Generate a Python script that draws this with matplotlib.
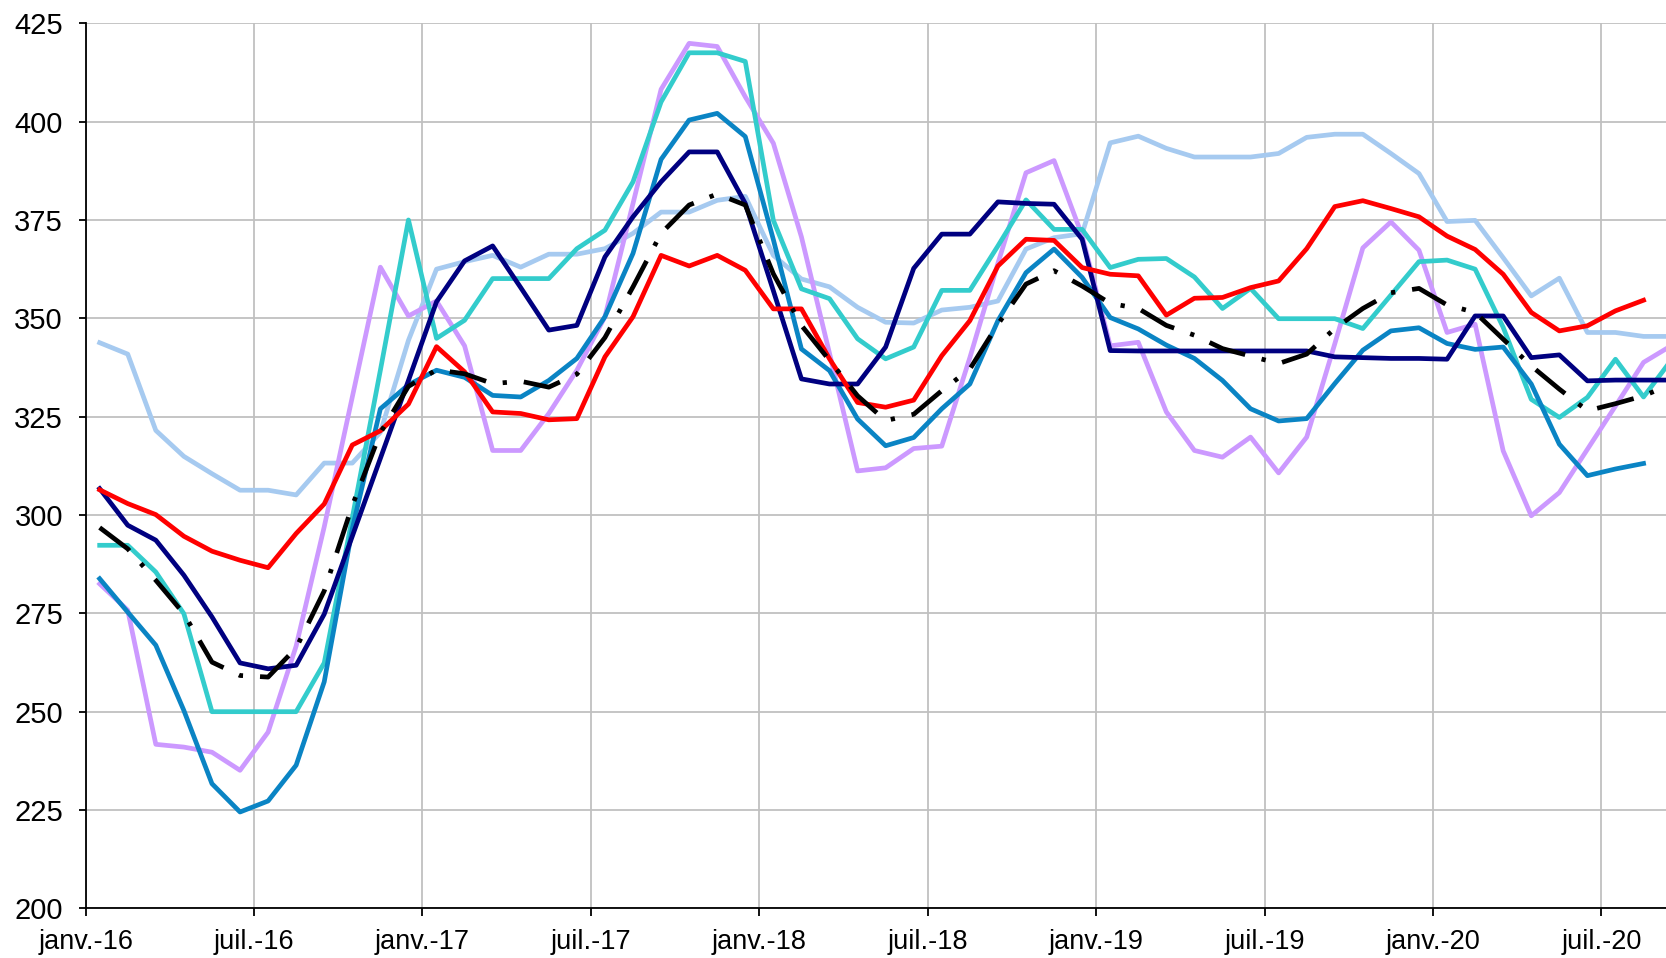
import numpy as np
import matplotlib
matplotlib.use("Agg")
import matplotlib.pyplot as plt

plt.rcParams['font.family'] = ['Liberation Sans', 'DejaVu Sans']

# monthly series, janv.-16 onwards
red = [306.4, 302.9, 300.1, 294.6, 290.8, 288.5, 286.6, 295.3, 302.8, 317.8, 321.4, 328.2,
       342.8, 336.4, 326.2, 325.8, 324.2, 324.5, 340.2, 350.4, 366.0, 363.3, 366.0, 362.2,
       352.4, 352.4, 339.7, 328.6, 327.4, 329.2, 340.5, 349.4, 363.3, 370.1, 369.8, 362.9,
       361.2, 360.8, 350.8, 355.1, 355.3, 357.8, 359.5, 367.7, 378.4, 379.9, 377.9, 375.8,
       370.9, 367.5, 361.2, 351.5, 346.8, 348.1, 351.9, 354.6]
navy = [306.7, 297.4, 293.6, 284.7, 274.1, 262.4, 260.9, 261.8, 274.8, 294.6, 314.4, 334.2,
        354.2, 364.6, 368.4, 357.8, 347.0, 348.2, 365.6, 375.8, 384.7, 392.3, 392.3, 379.2,
        357.0, 334.6, 333.3, 333.3, 342.7, 362.7, 371.4, 371.4, 379.6, 379.2, 379.0, 370.1,
        341.8, 341.7, 341.7, 341.7, 341.7, 341.7, 341.7, 341.7, 340.2, 340.0, 339.8, 339.8,
        339.6, 350.6, 350.6, 340.0, 340.7, 334.1, 334.3, 334.3, 334.3]
cyan = [292.3, 292.3, 285.5, 274.9, 250.0, 250.0, 250.0, 250.0, 262.4, 299.3, 336.8, 375.0,
        344.9, 349.5, 360.1, 360.1, 360.1, 367.7, 372.4, 384.7, 405.0, 417.5, 417.5, 415.3,
        374.9, 357.5, 355.0, 344.8, 339.7, 342.7, 357.1, 357.1, 368.4, 380.1, 372.6, 372.6,
        362.9, 365.0, 365.2, 360.5, 352.5, 357.6, 349.9, 349.9, 349.9, 347.4, 355.9, 364.4,
        364.8, 362.5, 347.7, 329.4, 324.8, 329.9, 339.6, 330.0, 339.5]
blue = [283.8, 275.3, 266.9, 250.3, 231.7, 224.5, 227.3, 236.4, 257.6, 296.5, 327.0, 333.1,
        336.8, 335.0, 330.4, 330.0, 334.2, 339.8, 350.4, 366.5, 390.4, 400.4, 402.1, 396.2,
        370.0, 342.2, 336.7, 324.4, 317.6, 319.7, 327.0, 333.3, 349.4, 361.6, 367.6, 360.4,
        350.2, 347.3, 343.2, 339.8, 334.2, 327.0, 323.9, 324.5, 333.4, 341.9, 346.8, 347.6,
        343.6, 342.1, 342.7, 333.3, 318.0, 310.0, 311.7, 313.1]
purple = [282.5, 275.8, 241.7, 241.0, 239.7, 235.1, 244.8, 266.7, 297.0, 330.0, 363.0, 350.6,
          354.4, 343.0, 316.4, 316.4, 325.8, 336.8, 350.4, 379.2, 408.2, 419.9, 419.1, 406.3,
          394.5, 370.7, 341.1, 311.2, 312.0, 316.9, 317.5, 340.0, 364.0, 387.0, 390.1, 371.0,
          343.0, 343.9, 326.2, 316.4, 314.7, 319.8, 310.7, 319.8, 343.5, 367.9, 374.5, 367.3,
          346.4, 348.5, 316.3, 299.8, 305.7, 316.7, 327.7, 338.8, 343.1]
lightblue = [343.8, 340.9, 321.5, 314.9, 310.5, 306.3, 306.3, 305.1, 313.2, 313.2, 321.0, 344.4,
             362.5, 364.4, 366.0, 363.0, 366.3, 366.3, 367.7, 371.6, 377.0, 377.0, 380.0, 381.0,
             366.0, 360.0, 358.0, 352.8, 349.0, 348.8, 352.1, 352.8, 354.4, 367.6, 370.5, 371.5,
             394.6, 396.3, 393.2, 391.0, 391.0, 391.0, 391.9, 396.0, 396.8, 396.8, 391.9, 386.8,
             374.6, 374.9, 365.4, 355.7, 360.2, 346.4, 346.4, 345.4, 345.4]
average = [296.8, 291.4, 283.4, 274.9, 262.6, 259.2, 258.8, 266.2, 280.7, 302.4, 320.9, 332.7,
           336.9, 335.9, 333.4, 334.0, 332.5, 335.8, 345.1, 358.0, 371.6, 378.8, 381.6, 378.8,
           361.3, 348.2, 339.3, 330.3, 324.0, 325.6, 331.6, 337.1, 348.5, 358.7, 362.1, 358.2,
           353.8, 352.5, 348.2, 345.7, 342.3, 340.4, 338.5, 340.9, 347.4, 352.5, 356.5, 357.6,
           353.4, 351.5, 344.7, 337.9, 332.0, 326.5, 328.3, 330.3, 333.3]

tick_labels = ['janv.-16', 'juil.-16', 'janv.-17', 'juil.-17', 'janv.-18',
               'juil.-18', 'janv.-19', 'juil.-19', 'janv.-20', 'juil.-20']

fig = plt.figure(figsize=(16.66, 9.58), dpi=100)
ax = fig.add_axes([0.0514, 0.0518, 0.9486, 0.9239])

def xs(vals):
    # points sit in the middle of each month
    return np.arange(len(vals)) + 0.5

lw = 3.4
ax.plot(xs(lightblue), lightblue, color='#A6CAF0', lw=lw, zorder=3)
ax.plot(xs(purple), purple, color='#CC99FF', lw=lw, zorder=3)
ax.plot(xs(cyan), cyan, color='#33CCCC', lw=lw, zorder=3)
ax.plot(xs(blue), blue, color='#0A84C4', lw=lw, zorder=3)
ax.plot(xs(navy), navy, color='#000080', lw=lw, zorder=3)
ax.plot(xs(red), red, color='#FF0000', lw=lw, zorder=3)
ax.plot(xs(average), average, color='black', lw=lw, zorder=4,
        linestyle=(0, (8, 3.6, 0.9, 3.6)), dash_capstyle='butt')

ax.set_xlim(0, 56.3)
ax.set_ylim(200, 425)
ax.set_xticks(np.arange(0, 55, 6))
ax.set_xticklabels(tick_labels)
ax.set_yticks(np.arange(200, 426, 25))

ax.grid(True, color='#C0C0C0', lw=1.3, zorder=0)
ax.set_axisbelow(True)
for s in ['top', 'right']:
    ax.spines[s].set_visible(False)
for s in ['left', 'bottom']:
    ax.spines[s].set_linewidth(1.3)
    ax.spines[s].set_color('black')
    ax.spines[s].set_zorder(5)

ax.tick_params(axis='y', labelsize=21, length=4.8, width=1.3, pad=11.5)
ax.tick_params(axis='x', labelsize=19.5, length=5.5, width=1.3, pad=9.5)

fig.savefig('out.png', dpi=100)
